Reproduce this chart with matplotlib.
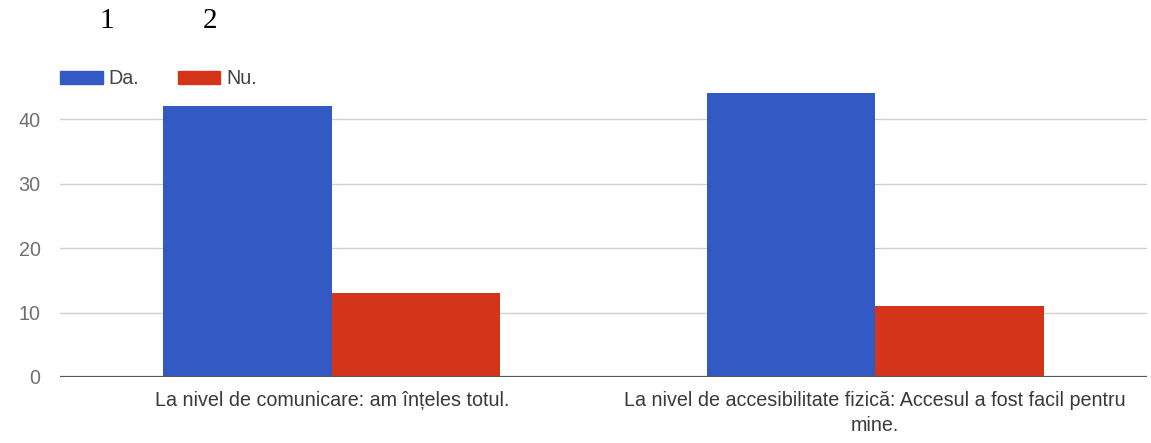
import matplotlib
matplotlib.use("Agg")
import matplotlib.pyplot as plt
from matplotlib.patches import Patch
import numpy as np

categories = ["La nivel de comunicare: am înțeles totul.",
              "La nivel de accesibilitate fizică: Accesul a fost facil pentru\nmine."]
series_names = ["Da.", "Nu."]
da_values = [42, 44]
nu_values = [13, 11]
yticks = [0, 10, 20, 30, 40]

blue = "#3359c4"
red = "#d4351a"
font = "Liberation Sans"
fs = 14.2

fig = plt.figure(figsize=(11.51, 4.43), dpi=100)
ax = fig.add_axes([0.0521, 0.1490, 0.9445, 0.655])

x = np.arange(len(categories))
w = 0.31
ax.bar(x - w/2, da_values, width=w, color=blue, zorder=3)
ax.bar(x + w/2, nu_values, width=w, color=red, zorder=3)

ax.set_xlim(-0.5, 1.5)
ax.set_ylim(0, 45)
ax.set_yticks(yticks)
ax.set_yticklabels([str(v) for v in yticks], color="#707070", fontsize=fs, family=font)
ax.set_xticks(x)
ax.set_xticklabels(categories, color="#3a3a3a", fontsize=fs, family=font, linespacing=1.4)
ax.tick_params(axis="both", length=0)
ax.tick_params(axis="y", pad=14)
ax.tick_params(axis="x", pad=10)
for s in ax.spines.values():
    s.set_visible(False)
ax.grid(axis="y", color="#d0d0d0", linewidth=1, zorder=0)
ax.axhline(0, color="#555555", linewidth=1.6, zorder=4)

handles = [Patch(color=blue), Patch(color=red)]
fig.legend(handles, series_names, loc="center left", bbox_to_anchor=(0.0521, 0.8217),
           ncol=2, frameon=False, prop={"family": font, "size": fs},
           borderpad=0, borderaxespad=0,
           handlelength=2.16, handleheight=0.67,
           columnspacing=1.96, handletextpad=0.3, labelcolor="#444444")

fig.text(0.0929, 0.953, "1", fontsize=21, family="Liberation Serif", ha="center", va="center")
fig.text(0.1824, 0.953, "2", fontsize=21, family="Liberation Serif", ha="center", va="center")

fig.savefig("out.png", dpi=100)
